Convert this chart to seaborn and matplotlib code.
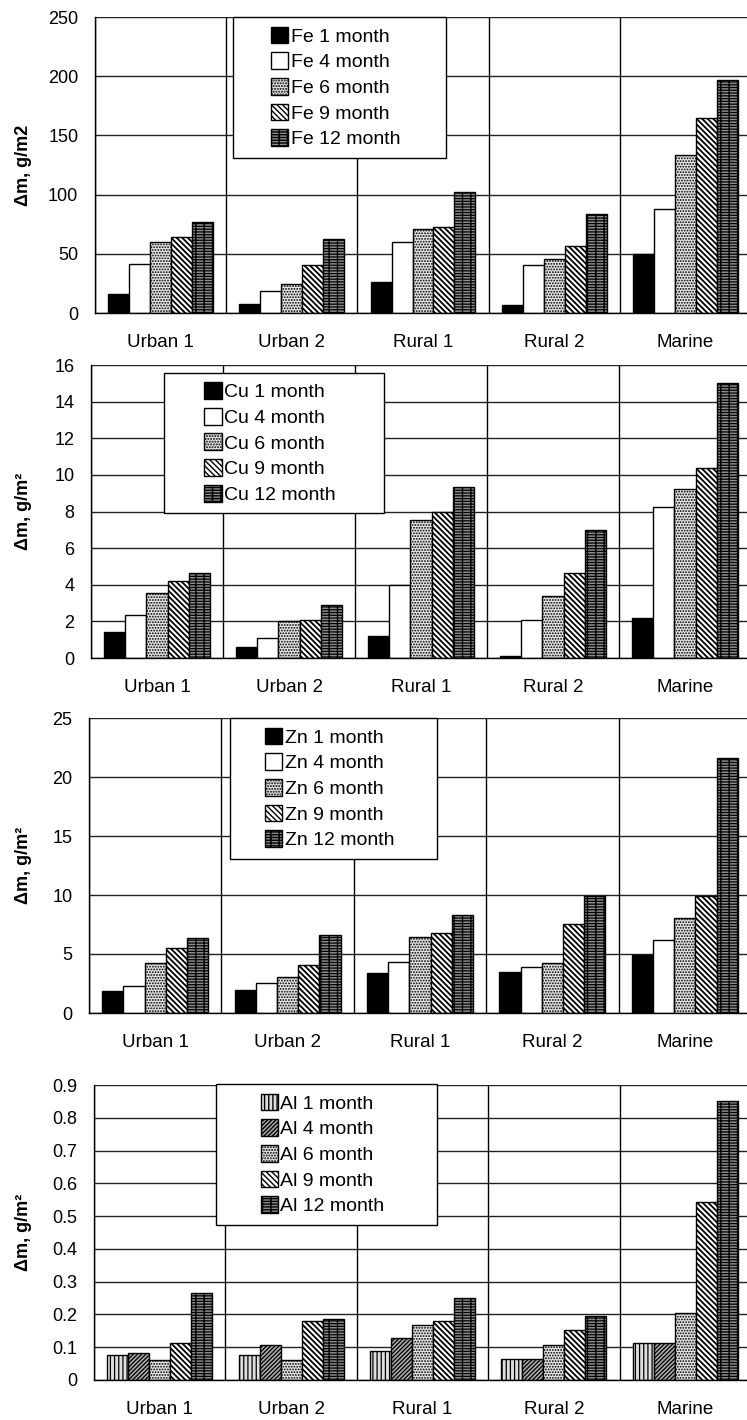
import matplotlib

matplotlib.use("Agg")

import matplotlib.pyplot as plt
import pandas as pd
import seaborn as sns
from matplotlib.patches import Rectangle
from matplotlib.ticker import FuncFormatter, MultipleLocator

# Sites on the x axis and exposure periods (hue)
SITES = ["Urban 1", "Urban 2", "Rural 1", "Rural 2", "Marine"]
PERIODS = ["1 month", "4 month", "6 month", "9 month", "12 month"]

# mass change per period (rows) and site (columns)
FE_VALUES = [
    [16.3, 7.9, 26.1, 6.5, 50.0],
    [41.3, 18.8, 59.8, 40.2, 87.6],
    [59.6, 24.4, 71.1, 45.5, 133.1],
    [64.0, 40.2, 72.5, 56.7, 164.3],
    [76.7, 62.6, 102.0, 84.0, 196.6],
]
CU_VALUES = [
    [1.40, 0.58, 1.22, 0.13, 2.18],
    [2.36, 1.09, 4.00, 2.09, 8.27],
    [3.55, 2.00, 7.55, 3.36, 9.24],
    [4.22, 2.09, 7.95, 4.64, 10.36],
    [4.64, 2.91, 9.36, 7.00, 15.0],
]
ZN_VALUES = [
    [1.84, 1.98, 3.39, 3.50, 4.94],
    [2.26, 2.51, 4.35, 3.93, 6.19],
    [4.21, 3.02, 6.47, 4.21, 8.02],
    [5.48, 4.07, 6.75, 7.57, 9.89],
    [6.36, 6.61, 8.31, 9.89, 21.6],
]
AL_VALUES = [
    [0.076, 0.076, 0.088, 0.065, 0.112],
    [0.083, 0.107, 0.127, 0.065, 0.112],
    [0.061, 0.061, 0.168, 0.107, 0.203],
    [0.112, 0.180, 0.180, 0.153, 0.544],
    [0.264, 0.185, 0.250, 0.195, 0.852],
]

W_PX, H_PX = 747, 1420

# face colour, hatch, hatch colour
STYLE_BLACK = ("black", None, "black")
STYLE_WHITE = ("white", None, "black")
STYLE_DOTS = ("#e6e6e6", "......", "#7a7a7a")
STYLE_DIAG = ("white", "\\\\\\\\\\\\", "black")
STYLE_GRID = ("#8c8c8c", "------||", "black")
STYLE_VSTRIPE = ("#dedede", "||||", "#8a8a8a")
STYLE_FINE = ("#a8a8a8", "////////", "#303030")

STD_STYLES = [STYLE_BLACK, STYLE_WHITE, STYLE_DOTS, STYLE_DIAG, STYLE_GRID]
AL_STYLES = [STYLE_VSTRIPE, STYLE_FINE, STYLE_DOTS, STYLE_DIAG, STYLE_GRID]


def to_frame(values):
    rows = []
    for period, series in zip(PERIODS, values):
        for site, v in zip(SITES, series):
            rows.append({"site": site, "period": period, "value": v})
    return pd.DataFrame(rows)


def draw_panel(fig, metal, values, ymax, ystep, ylabel, styles, ax_px, legend_px):
    left, top, bottom = ax_px
    right = 751
    ax = fig.add_axes([left / W_PX, 1 - bottom / H_PX,
                       (right - left) / W_PX, (bottom - top) / H_PX])

    df = to_frame(values)
    sns.barplot(data=df, x="site", y="value", hue="period", order=SITES,
                hue_order=PERIODS, palette=[s[0] for s in styles],
                saturation=1, edgecolor="black", linewidth=1, width=0.8,
                legend=False, ax=ax)

    for container, (face, hatch, hcolor) in zip(ax.containers, styles):
        for bar in container:
            bar.set_facecolor(face)
            if hatch:
                bar.set_hatch(hatch)
                if hasattr(bar, "set_hatchcolor"):
                    bar.set_hatchcolor(hcolor)
                if hasattr(bar, "set_hatch_linewidth"):
                    bar.set_hatch_linewidth(1.3 if "\\" in hatch else 0.9)

    ax.set_xlim(-0.5, 4.5)
    ax.set_ylim(0, ymax)
    ax.set_xlabel("")
    ax.set_ylabel(ylabel, fontsize=13, fontweight="bold", color="black")
    ax.yaxis.set_label_coords((32 - left) / (right - left), 0.5)

    ax.yaxis.set_major_locator(MultipleLocator(ystep))
    ax.yaxis.set_major_formatter(FuncFormatter(lambda v, _: f"{round(v, 3):g}"))
    ax.set_xticks([i - 0.5 for i in range(6)], minor=True)
    ax.tick_params(axis="x", which="major", length=0, pad=15, labelsize=13.5,
                   labelcolor="black")
    ax.tick_params(axis="x", which="minor", length=6, width=1, color="black")
    ax.tick_params(axis="y", length=7, width=1, color="black", pad=5,
                   labelsize=13, labelcolor="black")

    ax.set_axisbelow(True)
    ax.yaxis.grid(True, color="#222222", linewidth=1)
    ax.xaxis.grid(True, which="minor", color="black", linewidth=1)
    for side in ("top", "right"):
        ax.spines[side].set_visible(False)
    for side in ("left", "bottom"):
        ax.spines[side].set_color("black")
        ax.spines[side].set_linewidth(1)

    # legend box (drawn separately so the entries sit centred like the original)
    lx, ly, lw, lh = legend_px
    box = Rectangle((lx / W_PX, 1 - (ly + lh) / H_PX), lw / W_PX, lh / H_PX,
                    transform=fig.transFigure, facecolor="white",
                    edgecolor="black", linewidth=1, zorder=4, clip_on=False)
    ax.add_artist(box)
    leg = ax.legend(ax.containers, [f"{metal} {p}" for p in PERIODS],
                    loc="center",
                    bbox_to_anchor=((lx + lw / 2 - 4) / W_PX, 1 - (ly + lh / 2) / H_PX),
                    bbox_transform=fig.transFigure, frameon=False,
                    fontsize=14, handlelength=0.9, handleheight=0.95,
                    handletextpad=0.12, labelspacing=0.34, borderpad=0.2)
    for txt in leg.get_texts():
        txt.set_color("black")
    leg.set_zorder(5)
    return ax


sns.set_theme(style="white")
plt.rcParams["font.family"] = ["Liberation Sans", "DejaVu Sans"]
plt.rcParams["hatch.linewidth"] = 1.0
plt.rcParams["text.color"] = "black"

fig = plt.figure(figsize=(W_PX / 100, H_PX / 100), dpi=100)

draw_panel(fig, "Fe", FE_VALUES, 250, 50, "Δm, g/m2", STD_STYLES,
           (95, 17, 313), (233, 17, 213, 141))
draw_panel(fig, "Cu", CU_VALUES, 16, 2, "Δm, g/m²", STD_STYLES,
           (91, 365, 658), (164, 373, 220, 140))
draw_panel(fig, "Zn", ZN_VALUES, 25, 5, "Δm, g/m²", STD_STYLES,
           (89, 718, 1013), (230, 718, 207, 141))
draw_panel(fig, "Al", AL_VALUES, 0.9, 0.1, "Δm, g/m²", AL_STYLES,
           (94, 1085, 1380), (216, 1084, 221, 141))

fig.savefig("out.png", dpi=100)
plt.close(fig)
